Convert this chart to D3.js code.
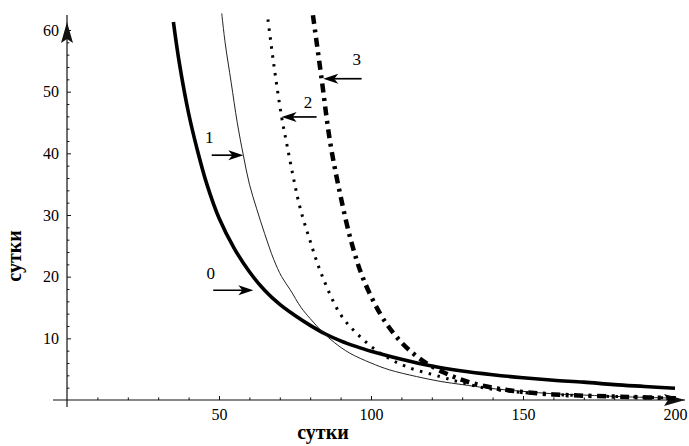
<!DOCTYPE html>
<html>
<head>
<meta charset="utf-8">
<script src="https://cdn.jsdelivr.net/npm/d3@7.9.0/dist/d3.min.js"></script>
<style>
  html, body { margin: 0; padding: 0; background: #fff; }
  svg { display: block; font-family: "Liberation Serif", "Times New Roman", serif; }
</style>
</head>
<body>
<svg id="chart" width="689" height="446"></svg>
<script>
// tick values
const xTicks = [50, 100, 150, 200];
const xMinor = [10, 20, 30, 40, 60, 70, 80, 90, 110, 120, 130, 140, 160, 170, 180, 190];
const yTicks = [10, 20, 30, 40, 50, 60];
const yMinor = [2, 4, 6, 8, 12, 14, 16, 18, 22, 24, 26, 28, 32, 34, 36, 38, 42, 44, 46, 48, 52, 54, 56, 58];

// curve 0 (thick solid)
const curve0X = [35, 37, 40, 43, 46, 50, 55, 60, 65, 70, 75, 80, 85, 90, 95, 100, 110, 120, 130, 140, 150, 160, 170, 180, 190, 200];
const curve0Y = [61.3, 54.5, 46.5, 40.3, 35.0, 29.5, 24.6, 20.8, 17.8, 15.5, 13.7, 12.1, 10.7, 9.6, 8.7, 7.9, 6.6, 5.5, 4.7, 4.1, 3.6, 3.2, 2.9, 2.5, 2.2, 1.9];

// curve 1 (thin solid)
const curve1X = [50.9, 52, 54, 56, 58, 60, 62.4, 65, 68, 70.6, 73.4, 77, 80, 84.3, 88, 93, 100, 106, 115, 123, 130, 139, 150, 160, 170, 185, 200];
const curve1Y = [62.7, 58, 51.5, 45.0, 39.7, 35.0, 31.0, 27.0, 22.8, 20.0, 17.9, 15.0, 13.2, 10.9, 9.3, 7.6, 6.0, 4.9, 3.8, 3.0, 2.5, 1.9, 1.4, 1.0, 0.8, 0.5, 0.3];

// curve 2 (dotted)
const curve2X = [66.1, 68, 70.6, 72.3, 74.5, 76.6, 79.9, 83.8, 89.8, 95.3, 103, 111.7, 122.7, 130, 138, 150, 160, 170, 185, 200];
const curve2Y = [61.7, 54.5, 45.9, 41.5, 36.0, 31.3, 25.9, 20.3, 14.0, 10.8, 7.6, 5.4, 3.8, 2.8, 1.9, 1.2, 0.9, 0.7, 0.5, 0.3];

// curve 3 (dash-dot)
const curve3X = [80.9, 83.8, 86.5, 89.8, 93.6, 97.5, 103, 107.3, 111.7, 117.2, 123.8, 131.5, 140, 150, 160, 170, 185, 200];
const curve3Y = [62.4, 51.9, 42.0, 33.5, 25.5, 19.6, 14.0, 10.9, 8.5, 6.3, 4.5, 3.0, 2.0, 1.3, 0.9, 0.7, 0.5, 0.3];

// curve labels and their pointer arrows (data units)
const labelNames = ['0', '1', '2', '3'];
const labelX = [47.3, 46.8, 79.3, 95.3];
const labelY = [19.7, 41.6, 47.3, 54.3];
const arrowFromX = [48.1, 47.6, 82.1, 96.9];
const arrowToX = [61.3, 58.0, 70.6, 84.3];
const arrowY = [17.8, 39.7, 45.9, 52.1];

const axisTitle = 'сутки';

const svg = d3.select('#chart');
svg.append('rect').attr('width', 689).attr('height', 446).attr('fill', '#fff');

const x = d3.scaleLinear().domain([0, 200]).range([67, 675]);
const y = d3.scaleLinear().domain([0, 60]).range([400, 30]);

// axis lines with arrowheads
const axisColor = '#111';
svg.append('line')
  .attr('x1', x(0) - 14).attr('x2', x(200) + 10)
  .attr('y1', y(0)).attr('y2', y(0))
  .attr('stroke', axisColor).attr('stroke-width', 1.2);
svg.append('line')
  .attr('x1', x(0)).attr('x2', x(0))
  .attr('y1', y(0) + 7).attr('y2', y(60) - 15)
  .attr('stroke', axisColor).attr('stroke-width', 1.2);

const xTip = x(200) + 10;
svg.append('path')
  .attr('d', `M${xTip},${y(0)} L${xTip - 21},${y(0) - 6} L${xTip - 17},${y(0)} L${xTip - 21},${y(0) + 6} Z`)
  .attr('fill', axisColor);
const yTip = y(60) - 8;
svg.append('path')
  .attr('d', `M${x(0)},${yTip} L${x(0) - 6},${yTip + 21} L${x(0)},${yTip + 17} L${x(0) + 6},${yTip + 21} Z`)
  .attr('fill', axisColor);

// ticks
function styleAxis(g) {
  g.select('.domain').remove();
  g.selectAll('line').attr('stroke', axisColor).attr('stroke-width', 1);
  g.selectAll('text')
    .attr('font-family', '"Liberation Serif", "Times New Roman", serif')
    .attr('font-size', 16).attr('fill', '#000');
}

svg.append('g')
  .attr('transform', `translate(0,${y(0)})`)
  .call(d3.axisBottom(x).tickValues(xTicks).tickSize(-4).tickPadding(9).tickFormat(d3.format('d')))
  .call(styleAxis);
svg.append('g')
  .attr('transform', `translate(0,${y(0)})`)
  .call(d3.axisBottom(x).tickValues(xMinor).tickSize(-2.6).tickFormat(''))
  .call(styleAxis);
svg.append('g')
  .attr('transform', `translate(${x(0)},0)`)
  .call(d3.axisLeft(y).tickValues(yTicks).tickSize(-4).tickPadding(8).tickFormat(d3.format('d')))
  .call(styleAxis);
svg.append('g')
  .attr('transform', `translate(${x(0)},0)`)
  .call(d3.axisLeft(y).tickValues(yMinor).tickSize(-2.4).tickFormat(''))
  .call(styleAxis);

// axis titles
svg.append('text')
  .attr('x', 323).attr('y', 439)
  .attr('text-anchor', 'middle')
  .attr('font-size', 20).attr('font-weight', 'bold')
  .text(axisTitle);
svg.append('text')
  .attr('transform', 'translate(21,256) rotate(-90)')
  .attr('text-anchor', 'middle')
  .attr('font-size', 20).attr('font-weight', 'bold')
  .text(axisTitle);

// curves
const series = [
  { xs: curve0X, ys: curve0Y, width: 3.6, dash: null, color: '#000' },
  { xs: curve1X, ys: curve1Y, width: 1, dash: null, color: '#222' },
  { xs: curve2X, ys: curve2Y, width: 3, dash: '2.5,6.5', color: '#000' },
  { xs: curve3X, ys: curve3Y, width: 4.5, dash: '9,5.5,3,5.5', color: '#000' }
];

const line = d3.line()
  .x((d) => x(d[0]))
  .y((d) => y(d[1]))
  .curve(d3.curveCatmullRom.alpha(0.5));

series.forEach((s) => {
  const pts = s.xs.map((v, i) => [v, s.ys[i]]);
  svg.append('path')
    .attr('d', line(pts))
    .attr('fill', 'none')
    .attr('stroke', s.color)
    .attr('stroke-width', s.width)
    .attr('stroke-dasharray', s.dash)
    .attr('stroke-linejoin', 'round');
});

// labels with arrows
labelNames.forEach((name, i) => {
  svg.append('text')
    .attr('x', x(labelX[i])).attr('y', y(labelY[i]))
    .attr('text-anchor', 'middle')
    .attr('font-size', 17)
    .text(name);

  const x0 = x(arrowFromX[i]);
  const x1 = x(arrowToX[i]);
  const yy = y(arrowY[i]);
  const dir = x1 > x0 ? 1 : -1;
  svg.append('line')
    .attr('x1', x0).attr('x2', x1 - dir * 8)
    .attr('y1', yy).attr('y2', yy)
    .attr('stroke', '#000').attr('stroke-width', 1.7);
  svg.append('path')
    .attr('d', `M${x1},${yy} L${x1 - dir * 15},${yy - 5} L${x1 - dir * 11},${yy} L${x1 - dir * 15},${yy + 5} Z`)
    .attr('fill', '#000');
});
</script>
</body>
</html>
